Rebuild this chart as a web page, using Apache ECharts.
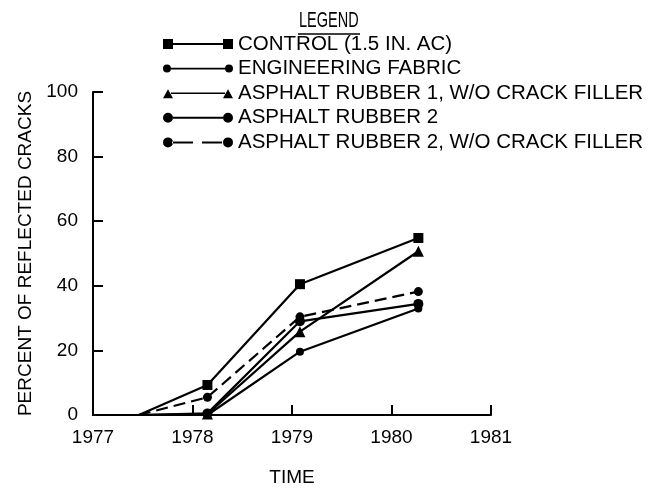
<!DOCTYPE html>
<html>
<head>
<meta charset="utf-8">
<script src="https://cdn.jsdelivr.net/npm/echarts@6/dist/echarts.min.js"></script>
<style>
  html, body { margin: 0; padding: 0; background: #fff; }
  #chart { width: 657px; height: 489px; }
</style>
</head>
<body>
<div id="chart"></div>
<script>
// Survey years at which reflected cracking was counted
const years = [1977.46, 1978.15, 1979.08, 1980.27];

// Percent of reflected cracks per treatment
const control = [0, 9.3, 40.5, 54.8];
const engineeringFabric = [0, 0, 19.6, 33.0];
const asphaltRubber1NoFiller = [0, 0.3, 25.8, 50.7];
const asphaltRubber2 = [0, 0.5, 29.0, 34.4];
const asphaltRubber2NoFiller = [0, 5.5, 30.4, 38.2];

const seriesNames = [
  'CONTROL (1.5 IN. AC)',
  'ENGINEERING FABRIC',
  'ASPHALT RUBBER 1, W/O CRACK FILLER',
  'ASPHALT RUBBER 2',
  'ASPHALT RUBBER 2, W/O CRACK FILLER'
];

const yTicks = [0, 20, 40, 60, 80, 100];
const xTicks = [1977, 1978, 1979, 1980, 1981];

const FONT = '"Liberation Sans", Arial, sans-serif';

// Legend keys: marker, line, marker — all paths span a 70 x 10 box
const circle = (cx, r) => `M${cx - r},5A${r},${r} 0 1,0 ${cx + r},5A${r},${r} 0 1,0 ${cx - r},5Z`;
const frame = 'M35,0L35,0M35,10L35,10';
const legendIcons = [
  'path://M0,0H10V10H0Z M10,4H60V6H10Z M60,0H70V10H60Z',
  'path://' + circle(4, 4) + ' M8,4.2H62V5.8H8Z ' + circle(66, 4) + ' ' + frame,
  'path://M0,10L5,1L10,10Z M8,4.2H62V5.8H8Z M60,10L65,1L70,10Z ' + frame,
  'path://' + circle(5, 5) + ' M10,4H60V6H10Z ' + circle(65, 5),
  'path://' + circle(5, 5) + ' M9,4H30V6H9Z M39,4H59V6H39Z ' + circle(65, 5)
];

function points(values) {
  return values.map((v, i) => i === 0
    ? { value: [years[i], v], symbol: 'none' }
    : { value: [years[i], v] });
}

const styles = [
  { symbol: 'rect', size: 10, type: 'solid' },
  { symbol: 'circle', size: 8, type: 'solid' },
  { symbol: 'triangle', size: 11, type: 'solid' },
  { symbol: 'circle', size: 10, type: 'solid' },
  { symbol: 'circle', size: 9, type: [12, 6] }
];
const allValues = [control, engineeringFabric, asphaltRubber1NoFiller, asphaltRubber2, asphaltRubber2NoFiller];

const chart = echarts.init(document.getElementById('chart'), null, { renderer: 'canvas' });

chart.setOption({
  backgroundColor: '#ffffff',
  animation: false,
  textStyle: { fontFamily: FONT, color: '#000' },
  graphic: [
    {
      // condensed legend heading
      type: 'text',
      x: 299,
      y: 10,
      scaleX: 0.66,
      style: {
        text: 'LEGEND',
        fontFamily: FONT,
        fontSize: 22,
        fill: '#000',
        textAlign: 'left',
        textVerticalAlign: 'top'
      }
    },
    {
      type: 'line',
      shape: { x1: 298, y1: 34, x2: 360, y2: 34 },
      style: { stroke: '#000', lineWidth: 1.5 }
    }
  ],
  legend: {
    orient: 'vertical',
    left: 158,
    top: 27,
    itemWidth: 70,
    itemHeight: 10,
    itemGap: 0.6,
    selectedMode: false,
    data: seriesNames.map((n, i) => ({ name: n, icon: legendIcons[i] })),
    textStyle: { fontFamily: FONT, fontSize: 20.5, color: '#000', lineHeight: 24, padding: [0, 0, 0, 0] }
  },
  grid: { left: 93, right: 166, top: 92, bottom: 74, containLabel: false, outerBoundsMode: 'none' },
  xAxis: {
    type: 'value',
    min: xTicks[0],
    max: xTicks[xTicks.length - 1],
    interval: 1,
    name: 'TIME',
    nameLocation: 'middle',
    nameGap: 53,
    nameTextStyle: { fontFamily: FONT, fontSize: 19, color: '#000' },
    axisLine: { show: true, lineStyle: { color: '#000', width: 2 } },
    axisTick: { show: true, inside: true, length: 10, lineStyle: { color: '#000', width: 2 } },
    axisLabel: {
      margin: 13, fontFamily: FONT, fontSize: 19, color: '#000',
      formatter: v => String(v)
    },
    splitLine: { show: false }
  },
  yAxis: {
    type: 'value',
    min: yTicks[0],
    max: yTicks[yTicks.length - 1],
    interval: 20,
    name: 'PERCENT OF REFLECTED CRACKS',
    nameLocation: 'middle',
    nameGap: 58,
    nameTextStyle: { fontFamily: FONT, fontSize: 19, color: '#000' },
    axisLine: { show: true, lineStyle: { color: '#000', width: 2 } },
    axisTick: { show: true, inside: true, length: 10, lineStyle: { color: '#000', width: 2 } },
    axisLabel: { margin: 15, fontFamily: FONT, fontSize: 19, color: '#000' },
    splitLine: { show: false }
  },
  series: seriesNames.map((name, i) => ({
    name: name,
    type: 'line',
    data: points(allValues[i]),
    symbol: styles[i].symbol,
    symbolSize: styles[i].size,
    showSymbol: true,
    clip: false,
    color: '#000',
    itemStyle: { color: '#000' },
    lineStyle: { color: '#000', width: 2.2, type: styles[i].type }
  }))
});
</script>
</body>
</html>
